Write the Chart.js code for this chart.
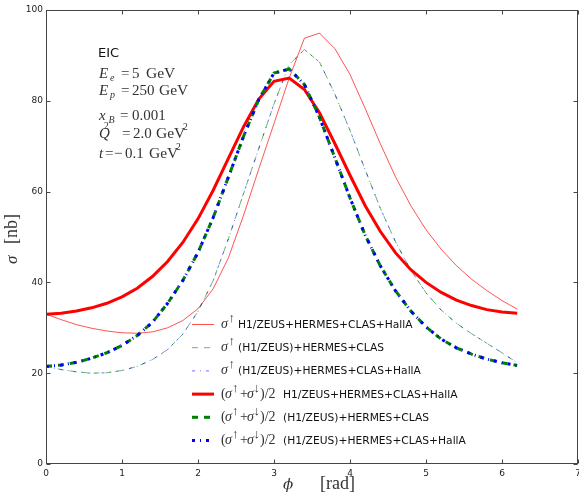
<!DOCTYPE html>
<html><head><meta charset="utf-8">
<script src="https://cdn.jsdelivr.net/npm/chart.js@4.4.0/dist/chart.umd.min.js"></script>
<style>html,body{margin:0;padding:0;background:#fff;overflow:hidden}canvas{display:block}</style>
</head><body>
<canvas id="c" width="579" height="493"></canvas>
<script>
// phi grid (rad)
const phi = [0,0.2,0.4,0.6,0.8,1.0,1.2,1.4,1.6,1.8,2.0,2.2,2.4,2.6,2.8,3.0,3.2,3.4,3.6,3.8,4.0,4.2,4.4,4.6,4.8,5.0,5.2,5.4,5.6,5.8,6.0,6.2];
// sigma-up, H1/ZEUS+HERMES+CLAS+HallA (thin red)
const upAll = [33.0,31.8,30.7,29.9,29.3,28.9,28.8,29.1,30.0,31.6,34.2,38.6,45.4,54.8,65.0,75.0,85.0,93.8,94.9,91.5,85.8,78.3,70.5,63.2,56.9,51.6,47.3,43.7,40.7,38.2,36.0,34.1];
// sigma-up, (H1/ZEUS)+HERMES+CLAS (thin green)
const upNoHallA = [21.5,20.8,20.3,20.0,20.1,20.6,21.5,23.0,25.2,28.6,33.6,40.4,49.6,59.6,69.5,79.3,88.0,91.3,88.5,81.5,73.5,64.8,56.3,48.9,42.7,37.7,33.9,31.0,28.7,26.6,24.5,22.3];
// sigma-up, (H1/ZEUS)+HERMES+CLAS+HallA (thin blue)
const upHallA = [21.5,20.8,20.3,20.0,20.1,20.6,21.5,23.0,25.2,28.6,33.6,40.4,49.6,59.6,69.5,79.3,88.0,91.3,88.5,81.5,73.5,64.8,56.3,48.9,42.7,37.7,33.9,31.0,28.7,26.6,24.5,22.3];
// (up+down)/2, H1/ZEUS+HERMES+CLAS+HallA (thick red)
const avgAll = [33.0,33.2,33.7,34.4,35.4,36.8,38.7,41.3,44.6,48.8,54.0,60.3,67.3,74.3,80.4,84.3,85.0,82.5,77.3,70.6,63.6,56.9,51.2,46.5,42.8,40.0,37.8,36.1,34.9,34.0,33.5,33.2];
// (up+down)/2, (H1/ZEUS)+HERMES+CLAS (thick green)
const avgNoHallA = [21.5,21.8,22.4,23.3,24.5,26.1,28.3,31.2,35.4,40.4,46.6,54.3,63.2,72.2,80.3,86.1,87.0,83.6,76.3,67.5,58.6,50.4,43.6,38.1,33.7,30.2,27.5,25.6,24.2,23.1,22.3,21.7];
// (up+down)/2, (H1/ZEUS)+HERMES+CLAS+HallA (thick blue)
const avgHallA = [21.5,21.8,22.4,23.3,24.5,26.1,28.3,31.2,35.4,40.4,46.6,54.3,63.2,72.2,80.3,86.1,87.0,83.6,76.3,67.5,58.6,50.4,43.6,38.1,33.7,30.2,27.5,25.6,24.2,23.1,22.3,21.7];

const xTicks = [0,1,2,3,4,5,6,7];
const yTicks = [0,20,40,60,80,100];
const legendKinds = ['up','up','up','avg','avg','avg'];
const legendTexts = ['H1/ZEUS+HERMES+CLAS+HallA','(H1/ZEUS)+HERMES+CLAS','(H1/ZEUS)+HERMES+CLAS+HallA','H1/ZEUS+HERMES+CLAS+HallA','(H1/ZEUS)+HERMES+CLAS','(H1/ZEUS)+HERMES+CLAS+HallA'];

const pts = arr => phi.map((p,i)=>({x:p,y:arr[i]}));
const seriesDefs = [
  {data:upAll,      color:'rgba(255,0,0,0.85)', width:0.8, dash:[]},
  {data:upNoHallA,  color:'rgba(0,140,0,0.85)', width:0.7, dash:[6,6]},
  {data:upHallA,    color:'rgba(0,0,255,0.8)',  width:0.7, dash:[3,5,1,5]},
  {data:avgAll,     color:'#ff0000', width:3, dash:[]},
  {data:avgNoHallA, color:'#008000', width:3, dash:[6,6]},
  {data:avgHallA,   color:'#0000ff', width:3, dash:[3,5,1,5]}
];
const datasets = seriesDefs.map((s,i)=>({
  data: pts(s.data), borderColor:s.color, borderWidth:s.width, borderDash:s.dash,
  pointRadius:0, tension:0, fill:false, order: seriesDefs.length - i, borderCapStyle:'butt'
}));

const MATH = 'Liberation Serif';
const SANS = 'DejaVu Sans';
function txt(ctx, s, x, y, font, color){ ctx.font = font; ctx.fillStyle = color||'#222'; ctx.fillText(s, x, y); }

const decor = {
  id:'decor',
  afterDraw(chart){
    const ctx = chart.ctx, a = chart.chartArea, xs = chart.scales.x, ys = chart.scales.y;
    ctx.save();
    // frame
    ctx.strokeStyle = '#444'; ctx.lineWidth = 1; ctx.setLineDash([]);
    const L = Math.round(a.left)+0.5, R = Math.round(a.right)-0.5, T = Math.round(a.top)+0.5, B = Math.round(a.bottom)-0.5;
    ctx.strokeRect(L, T, R-L, B-T);
    // inward ticks
    ctx.beginPath();
    xTicks.forEach(v=>{ const px = Math.round(xs.getPixelForValue(v))+0.5;
      ctx.moveTo(px,B); ctx.lineTo(px,B-4); ctx.moveTo(px,T); ctx.lineTo(px,T+4); });
    yTicks.forEach(v=>{ const py = Math.round(ys.getPixelForValue(v))+0.5;
      ctx.moveTo(L,py); ctx.lineTo(L+4,py); ctx.moveTo(R,py); ctx.lineTo(R-4,py); });
    ctx.stroke();

    // annotation block
    ctx.textBaseline = 'alphabetic'; ctx.textAlign = 'left';
    const mc = '#333';
    txt(ctx,'EIC',98,57,'13px '+SANS,'#111');
    const it = s => 'italic '+s+'px '+MATH, rm = s => s+'px '+MATH;
    txt(ctx,'E',99,78,it(15),mc); txt(ctx,'e',110,81,it(10),mc);
    txt(ctx,'=',121,78,rm(15),mc); txt(ctx,'5',132,78,rm(15),mc); txt(ctx,'GeV',146,78,rm(15.5),mc);
    txt(ctx,'E',99,95,it(15),mc); txt(ctx,'p',110,98,it(10),mc);
    txt(ctx,'=',121,95,rm(15),mc); txt(ctx,'250',132,95,rm(15),mc); txt(ctx,'GeV',159,95,rm(15.5),mc);
    txt(ctx,'x',99,120,it(15),mc); txt(ctx,'B',108.5,123,it(10),mc);
    txt(ctx,'=',120,120,rm(15),mc); txt(ctx,'0.001',132,120,rm(15),mc);
    txt(ctx,'Q',99,138,it(15),mc); txt(ctx,'2',104,128.5,rm(9.5),mc);
    txt(ctx,'=',122,138,rm(15),mc); txt(ctx,'2.0',133,138,rm(15),mc); txt(ctx,'GeV',156,138,rm(15.5),mc); txt(ctx,'2',183,130,rm(9.5),mc);
    txt(ctx,'t',99,158,it(15),mc); txt(ctx,'=',105,158,rm(15),mc); txt(ctx,'\u2212',114,158,rm(15),mc);
    txt(ctx,'0.1',125,158,rm(15),mc); txt(ctx,'GeV',149,158,rm(15.5),mc); txt(ctx,'2',176,150,rm(9.5),mc);

    // axis titles
    txt(ctx,'\u03d5',283,489,'italic 15px DejaVu Serif',mc);
    txt(ctx,'[rad]',320,489,rm(18),mc);
    ctx.save(); ctx.translate(17,0); ctx.rotate(-Math.PI/2);
    txt(ctx,'\u03c3',-264,0,it(17),mc);
    txt(ctx,'[nb]',-244,0,rm(18),mc);
    ctx.restore();

    // legend
    const y0 = 324, dy = 23.2;
    const arrowFont = '13px '+MATH;
    seriesDefs.forEach((s,i)=>{
      const yc = y0 + i*dy;
      ctx.strokeStyle = s.color; ctx.lineWidth = s.width; ctx.setLineDash(s.dash); ctx.lineCap='butt';
      ctx.beginPath(); ctx.moveTo(192, yc+0.5); ctx.lineTo(214, yc+0.5); ctx.stroke();
      ctx.setLineDash([]);
      const base = yc + 4;
      if (legendKinds[i]==='up'){
        txt(ctx,'\u03c3',221,base,it(14),mc);
        txt(ctx,'\u2191',228.5,base-6,arrowFont,mc);
        txt(ctx,legendTexts[i],238,base,'10.7px '+SANS,'#111');
      } else {
        txt(ctx,'(',221,base,rm(14),mc);
        txt(ctx,'\u03c3',225,base,it(14),mc);
        txt(ctx,'\u2191',232,base-6,arrowFont,mc);
        txt(ctx,'+',240,base,rm(14),mc);
        txt(ctx,'\u03c3',247,base,it(14),mc);
        txt(ctx,'\u2193',253.5,base-6,arrowFont,mc);
        txt(ctx,')/2',260,base,rm(14),mc);
        txt(ctx,legendTexts[i],283,base,'10.7px '+SANS,'#111');
      }
    });
    ctx.restore();
  }
};

new Chart(document.getElementById('c'), {
  type:'line',
  data:{datasets},
  options:{
    responsive:false, animation:false, devicePixelRatio:1,
    layout:{padding:{top:10,right:1,left:0,bottom:0}},
    plugins:{legend:{display:false}, tooltip:{enabled:false}},
    scales:{
      x:{type:'linear', min:0, max:7,
        afterBuildTicks(s){ s.ticks = xTicks.map(v=>({value:v})); },
        ticks:{font:{family:SANS,size:9}, color:'#222', padding:4, maxRotation:0, autoSkip:false},
        grid:{display:false, drawTicks:false}, border:{display:false},
        afterFit(s){ s.height = 29; s.paddingLeft = 0; s.paddingRight = 0; }},
      y:{type:'linear', min:0, max:100,
        afterBuildTicks(s){ s.ticks = yTicks.map(v=>({value:v})); },
        ticks:{font:{family:SANS,size:9}, color:'#222', padding:3},
        grid:{display:false, drawTicks:false}, border:{display:false},
        afterFit(s){ s.width = 46; s.paddingTop = 0; s.paddingBottom = 0; }}
    }
  },
  plugins:[decor]
});
</script>
</body></html>
